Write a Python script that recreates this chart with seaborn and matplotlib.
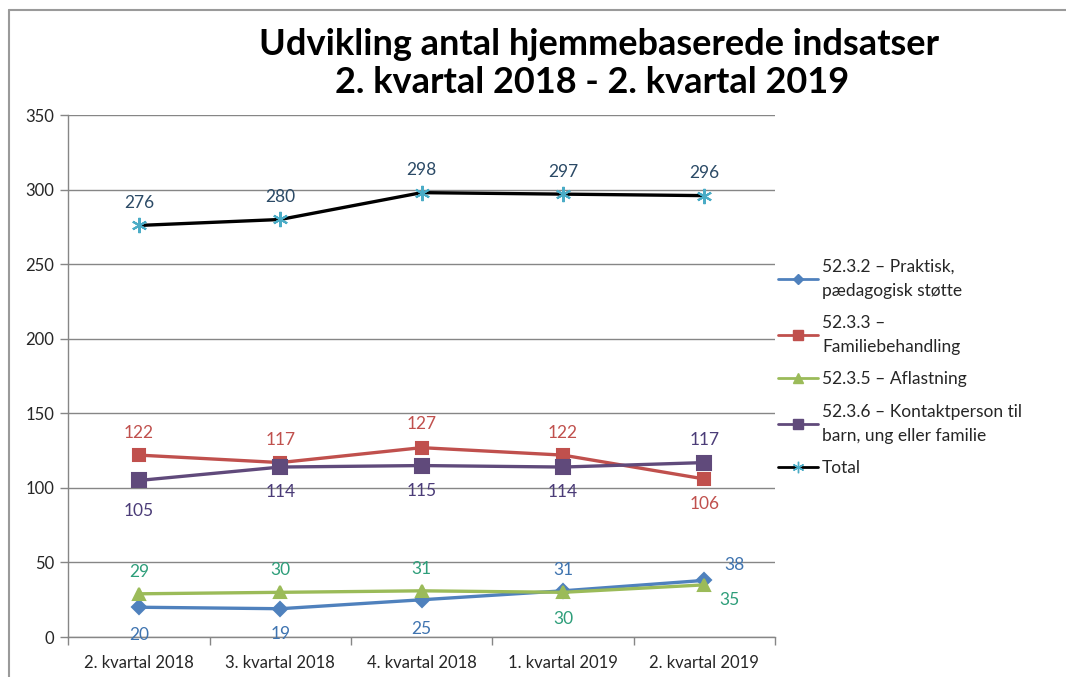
import numpy as np
import pandas as pd
import matplotlib.pyplot as plt
from matplotlib.lines import Line2D
import seaborn as sns

# Data
quarters = ['2. kvartal 2018', '3. kvartal 2018', '4. kvartal 2018', '1. kvartal 2019', '2. kvartal 2019']
praktisk = [20, 19, 25, 31, 38]
familiebehandling = [122, 117, 127, 122, 106]
aflastning = [29, 30, 31, 30, 35]
kontaktperson = [105, 114, 115, 114, 117]
total = [276, 280, 298, 297, 296]

series_names = ['52.3.2 – Praktisk,\npædagogisk støtte',
                '52.3.3 –\nFamiliebehandling',
                '52.3.5 – Aflastning',
                '52.3.6 – Kontaktperson til\nbarn, ung eller familie',
                'Total']
series_values = [praktisk, familiebehandling, aflastning, kontaktperson, total]

# styling per series: line colour, marker, marker colour, label colour
styles = [
    dict(color='#4F81BD', marker='D', mcolor='#4F81BD', lcolor='#3F74B0', ms=7),
    dict(color='#C0504D', marker='s', mcolor='#C0504D', lcolor='#C0504D', ms=9),
    dict(color='#9BBB59', marker='^', mcolor='#9BBB59', lcolor='#2E9E7A', ms=9),
    dict(color='#604A7B', marker='s', mcolor='#604A7B', lcolor='#4B3C78', ms=10),
    dict(color='#000000', marker=(6, 2, 0), mcolor='#4BACC6', lcolor='#2B4A66', ms=11),
]
# label offsets in points (dx, dy) per series per point
offsets = [
    [(0, -20), (0, -18), (0, -21), (0, 15), (22, 11)],
    [(0, 16), (0, 16), (0, 17), (0, 16), (0, -18)],
    [(0, 16), (0, 16), (0, 16), (0, -19), (18, -11)],
    [(0, -22), (0, -18), (0, -18), (0, -18), (0, 16)],
    [(0, 16), (0, 16), (0, 16), (0, 16), (0, 16)],
]

rows = []
for name, vals in zip(series_names, series_values):
    for i, (q, v) in enumerate(zip(quarters, vals)):
        rows.append({'series': name, 'pos': i, 'quarter': q, 'value': v})
df = pd.DataFrame(rows)

sns.set_theme(style='white')
plt.rcParams['font.family'] = ['Lato', 'DejaVu Sans']

fig = plt.figure(figsize=(10.66, 6.77), dpi=100)
ax = fig.add_axes([0.064, 0.059, 0.663, 0.771])

handles = []
for name, st, offs in zip(series_names, styles, offsets):
    sub = df[df['series'] == name]
    sns.lineplot(data=sub, x='pos', y='value', ax=ax, color=st['color'],
                 marker=st['marker'], markersize=st['ms'],
                 markerfacecolor=st['mcolor'], markeredgecolor=st['mcolor'],
                 markeredgewidth=1.5, linewidth=2.4, errorbar=None, legend=False)
    for (x, y), (dx, dy) in zip(zip(sub['pos'], sub['value']), offs):
        ax.annotate(str(y), (x, y), xytext=(dx, dy), textcoords='offset points',
                    ha='center', va='center', fontsize=12.5, color=st['lcolor'])
    handles.append(Line2D([], [], color=st['color'], marker=st['marker'],
                          markersize=st['ms'] * 0.75, markerfacecolor=st['mcolor'],
                          markeredgecolor=st['mcolor'], linewidth=2))

ax.set_xlim(-0.5, 4.5)
ax.set_ylim(0, 350)
ax.set_yticks(np.arange(0, 351, 50))
ax.set_xticks(range(len(quarters)))
ax.set_xticklabels(quarters)
ax.set_xticks(np.arange(-0.5, 4.6, 1), minor=True)
ax.tick_params(axis='x', which='major', length=0, labelsize=12, pad=13)
ax.tick_params(axis='x', which='minor', length=6, width=1, color='#868686', bottom=True)
ax.tick_params(axis='y', length=6, width=1, color='#868686', left=True, labelsize=12, pad=4)
ax.set_xlabel('')
ax.set_ylabel('')
ax.yaxis.grid(True, color='#868686', linewidth=1)
ax.set_axisbelow(True)
for side in ['top', 'right']:
    ax.spines[side].set_visible(False)
for side in ['left', 'bottom']:
    ax.spines[side].set_color('#868686')
    ax.spines[side].set_linewidth(1)

fig.text(0.562, 0.935, 'Udvikling antal hjemmebaserede indsatser', ha='center', va='center',
         fontsize=26, fontweight='bold', color='#000000')
fig.text(0.555, 0.878, '2. kvartal 2018 - 2. kvartal 2019', ha='center', va='center',
         fontsize=26, fontweight='bold', color='#000000')

leg = fig.legend(handles, series_names, loc='upper left', bbox_to_anchor=(0.723, 0.628),
                 frameon=False, fontsize=12.5, handlelength=2.3, handletextpad=0.25,
                 labelspacing=0.95, borderaxespad=0)
for t in leg.get_texts():
    t.set_linespacing(1.6)

# chart frame
fig.add_artist(Line2D([0.008, 1.0], [0.985, 0.985], color='#9A9A9A', linewidth=1.5))
fig.add_artist(Line2D([0.008, 0.008], [0.0, 0.985], color='#9A9A9A', linewidth=1.5))

fig.savefig('out.png', dpi=100)
